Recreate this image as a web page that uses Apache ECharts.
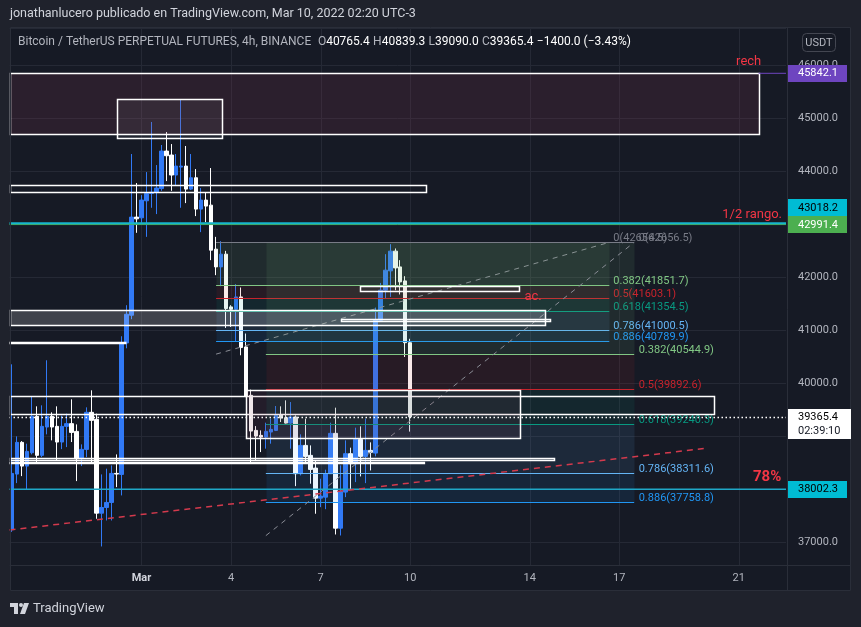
<!DOCTYPE html>
<html>
<head>
<meta charset="utf-8">
<script src="https://cdn.jsdelivr.net/npm/echarts@6.0.0/dist/echarts.min.js"></script>
<style>
html, body { margin: 0; padding: 0; background: #1f222c; }
#c { width: 861px; height: 627px; }
</style>
</head>
<body>
<div id="c"></div>
<script>
// 4h candles, BTCUSDT perp, Feb 24 16:00 -> Mar 10 00:00 (UTC-3)
const opens = [37240, 38289, 38887, 38440, 38692, 39377, 38642, 39176, 39377, 39189, 38893, 39189, 39240, 39094, 38579, 38755, 39453, 39321, 37553, 37660,
  37755, 38302, 38283, 40760, 41283, 43132, 43119, 43440, 43579, 43604, 43670, 44377, 44302, 43925, 44075, 44094, 43660, 43874, 43283, 43453,
  43358, 42528, 42194, 42434, 41440, 41396, 41628, 40685, 39774, 39113, 39019, 38987, 39082, 39113, 39410, 39353, 39250, 39364, 38296, 38830,
  38642, 38402, 37836, 37855, 38296, 39057, 37270, 37950, 38674, 38485, 38943, 38623, 38736, 38685, 41189, 41755, 42119, 42491, 42194, 41930, 40765.4]
const highs = [40358, 39000, 38911, 38862, 39742, 39566, 39585, 40434, 39453, 39566, 39390, 39428, 39698, 39226, 38849, 39547, 39868, 39428, 38283, 38391,
  38453, 38660, 40887, 41472, 44321, 43774, 43547, 43981, 44925, 44113, 44491, 44736, 44509, 44321, 45353, 44472, 44321, 44038, 43679, 43590,
  44057, 42760, 42679, 42496, 41472, 41868, 41806, 40938, 39881, 39194, 39113, 39258, 39334, 39572, 39566, 39679, 39647, 39396, 39038, 39334,
  38830, 38547, 38202, 38372, 39258, 39541, 38453, 38925, 38787, 39164, 39189, 39334, 38887, 41428, 41892, 42434, 42623, 42541, 42321, 42019, 40839.3]
const lows = [37200, 38119, 38251, 38000, 38660, 38515, 38609, 39038, 38925, 38547, 38760, 38798, 38893, 38157, 38440, 38609, 38496, 37447, 36925, 37415,
  37415, 38044, 37887, 40660, 41208, 42836, 43025, 42760, 43308, 43189, 43628, 43811, 43628, 43736, 43308, 43396, 43642, 43151, 42849, 43038,
  42321, 42038, 41830, 41043, 41062, 40798, 40528, 39740, 38515, 38547, 38704, 38768, 38862, 39100, 39270, 39240, 38768, 38062, 38264, 38485,
  38108, 37542, 37666, 37628, 38290, 37151, 37132, 37855, 38000, 38138, 38245, 38119, 38358, 38623, 41180, 41598, 41628, 41755, 41674, 40496, 39090.0]
const closes = [38302, 38887, 38440, 38717, 39377, 38642, 39189, 39377, 39176, 38893, 39189, 39240, 39075, 38579, 38755, 39453, 39302, 37553, 37660, 37755,
  38302, 38290, 40760, 41302, 43132, 43100, 43453, 43579, 43600, 43679, 44377, 44289, 43925, 44094, 44094, 43660, 43874, 43283, 43453, 43340,
  42509, 42194, 42434, 41409, 41396, 41628, 40674, 39760, 39100, 39006, 38987, 39094, 39132, 39396, 39345, 39250, 39364, 38296, 38830, 38623,
  38377, 37836, 37874, 38296, 39057, 37270, 37962, 38674, 38485, 38943, 38623, 38736, 38700, 41189, 41755, 42132, 42491, 42175, 41911, 40765.4, 39365.4]

const SLOTS = 156
const dayTickIdx = [26, 44, 62, 80, 104, 122, 146]
const dayTickText = ['Mar', '4', '7', '10', '14', '17', '21']

// drawings, x in candle slots, y in price
const boxes = [
  [-0.5, 150, 45842.1, 44698],
  [21, 42, 45353, 44617],
  [-0.5, 83, 43730, 43598],
  [-0.5, 107, 41391, 41108],
  [66, 108, 41221, 41179],
  [70, 102, 41830, 41730],
  [-0.5, 141, 39755, 39409],
  [47, 102, 39868, 38957],
  [-0.5, 108.7, 38594, 38547]
]
const hlines = [
  [150, 155.5, 45842.1],
  [-0.5, 155.5, 42991.4],
  [-0.5, 155.5, 43018.2],
  [-0.5, 155.5, 38002.3],
  [-0.5, 23, 40760],
  [-0.5, 83, 38500]
]
const redTrend = [-0.5, 37236, 139.3, 38774]
const fibRatios = ['0', '0.382', '0.5', '0.618', '0.786', '0.886']
const fibAPrices = [42656.5, 41851.7, 41603.1, 41354.5, 41000.5, 40789.9]
const fibBPrices = [42656.5, 40544.9, 39892.6, 39240.3, 38311.6, 37758.8]
const fibASpan = [41, 120]
const fibBSpan = [51, 125]
const fibATrend = [41, 40550, 120, 42656.5]
const fibBTrend = [51, 37129, 125, 42656.5]
const notes = [
  ['rech', 148, 46057],
  ['1/2 rango.', 148.7, 43170],
  ['ac.', 104.7, 41623],
  ['78%', 151.7, 38226]
]
const tagPrices = [45842.1, 43018.2, 42991.4, 38002.3]

const UP = '#3179f5', DOWN = '#ffffff'
const GRID = '#252935', BG = '#161a25', FRAME = '#2a2e39', TXT = '#b2b5be'
const FONT = 'Roboto, sans-serif'
const fibColors = ['#787b86', '#81c784', '#c8232c', '#089981', '#64b5f6', '#2196f3']
const boxFills = ['rgba(132,56,82,0.2)', 'rgba(255,255,255,0.05)', null, 'rgba(255,255,255,0.18)', null, 'rgba(255,255,255,0.03)', null, 'rgba(132,56,82,0.12)', null]
const hlineStyle = [
  { stroke: '#6e45c0', lineWidth: 1 },
  { stroke: '#4caf50', lineWidth: 1 },
  { stroke: '#16b5cc', lineWidth: 2 },
  { stroke: '#1fa8c8', lineWidth: 1.5 },
  { stroke: '#ffffff', lineWidth: 2.5 },
  { stroke: '#ffffff', lineWidth: 2.5 }
]

const chart = echarts.init(document.getElementById('c'))
const slotNames = Array.from({ length: SLOTS }, (_, i) => String(i))
const candles = opens.map((o, i) => [o, closes[i], lows[i], highs[i]])

// category axis rounds values, so add fractions by band width
function at(api, i, p) {
  const base = Math.max(0, Math.min(SLOTS - 1, Math.floor(i)))
  const pt = api.coord([base, p])
  return [pt[0] + (i - base) * api.size([1, 0])[0], pt[1]]
}

function rectFrom(api, x0, x1, p0, p1) {
  const a = at(api, x0, p0), b = at(api, x1, p1)
  return { x: Math.round(a[0]) + 0.5, y: Math.round(Math.min(a[1], b[1])) + 0.5, width: Math.round(b[0] - a[0]), height: Math.round(Math.abs(b[1] - a[1])) }
}

function fibGroup(api, prices, span, trend, labelDx) {
  const kids = []
  for (let k = 0; k < prices.length - 1; k++) {
    const r = rectFrom(api, span[0], span[1], prices[k], prices[k + 1])
    kids.push({ type: 'rect', shape: r, style: { fill: fibColors[k + 1], opacity: 0.1 } })
  }
  prices.forEach((p, k) => {
    const a = at(api, span[0], p), b = at(api, span[1], p)
    const y = Math.round(a[1]) + 0.5
    kids.push({ type: 'line', shape: { x1: a[0], y1: y, x2: b[0], y2: y }, style: { stroke: fibColors[k], lineWidth: 1 } })
    kids.push({ type: 'text', style: { text: fibRatios[k] + '(' + p.toFixed(1) + ')', x: b[0] + labelDx, y: y + 1, fill: fibColors[k], font: '11px ' + FONT, align: 'left', verticalAlign: 'bottom' } })
  })
  const t0 = at(api, trend[0], trend[1]), t1 = at(api, trend[2], trend[3])
  kids.push({ type: 'line', shape: { x1: t0[0], y1: t0[1], x2: t1[0], y2: t1[1] }, style: { stroke: '#8a8d96', lineWidth: 1, lineDash: [5, 5] } })
  return kids
}

const option = {
  animation: false,
  backgroundColor: 'transparent',
  grid: { left: 9.5, right: 75, top: 28, bottom: 62 },
  xAxis: {
    type: 'category',
    data: slotNames,
    boundaryGap: true,
    axisLine: { show: false },
    axisTick: { show: false },
    splitLine: { show: false },
    axisLabel: {
      interval: 0,
      margin: 8,
      color: TXT,
      fontSize: 11,
      fontFamily: FONT,
      formatter: (v, i) => {
        const k = dayTickIdx.indexOf(i)
        if (k < 0) return ''
        return k === 0 ? '{b|' + dayTickText[k] + '}' : dayTickText[k]
      },
      rich: { b: { color: '#d1d4dc', fontWeight: 'bold', fontSize: 11, fontFamily: FONT } }
    }
  },
  yAxis: {
    type: 'value',
    position: 'right',
    min: 36576,
    max: 46696,
    splitNumber: 10,
    axisLine: { show: false },
    axisTick: { show: false },
    splitLine: { show: true, lineStyle: { color: GRID, width: 1 } },
    axisLabel: {
      color: TXT, fontSize: 11, fontFamily: FONT, margin: 12,
      showMinLabel: false, showMaxLabel: false,
      formatter: v => v.toFixed(1)
    }
  },
  series: [
    {
      type: 'custom', z: 1, silent: true,
      data: dayTickIdx.map(i => [i, 40000]),
      renderItem: (params, api) => {
        const x = Math.round(api.coord([api.value(0), 40000])[0]) + 0.5
        const cs = params.coordSys
        return { type: 'line', shape: { x1: x, y1: cs.y, x2: x, y2: cs.y + cs.height }, style: { stroke: GRID, lineWidth: 1 } }
      }
    },
    {
      type: 'candlestick',
      z: 2,
      data: candles,
      barWidth: 4,
      itemStyle: { color: UP, color0: DOWN, borderColor: UP, borderColor0: DOWN, borderWidth: 1 }
    },
    {
      // fibonacci retracements
      type: 'custom', z: 3, silent: true,
      data: [[0, 40000], [1, 40000]],
      renderItem: (params, api) => {
        const i = params.dataIndex
        const kids = i === 0
          ? fibGroup(api, fibAPrices, fibASpan, fibATrend, 4)
          : fibGroup(api, fibBPrices, fibBSpan, fibBTrend, 4.5)
        return { type: 'group', children: kids }
      }
    },
    {
      // rectangles
      type: 'custom', z: 4, silent: true,
      data: boxes.map((b, i) => [i, b[2]]),
      renderItem: (params, api) => {
        const b = boxes[params.dataIndex]
        const fill = boxFills[params.dataIndex]
        return { type: 'rect', shape: rectFrom(api, b[0], b[1], b[2], b[3]), style: { fill: fill || 'none', stroke: '#ffffff', lineWidth: 1.5 } }
      }
    },
    {
      // horizontal lines
      type: 'custom', z: 5, silent: true,
      data: hlines.map((h, i) => [i, h[2]]),
      renderItem: (params, api) => {
        const h = hlines[params.dataIndex]
        const a = at(api, h[0], h[2]), b = at(api, h[1], h[2])
        return { type: 'line', shape: { x1: a[0], y1: a[1], x2: b[0], y2: b[1] }, style: hlineStyle[params.dataIndex] }
      }
    },
    {
      // red trend line, last price dotted line
      type: 'custom', z: 5, silent: true,
      data: [[0, redTrend[1]], [1, closes[closes.length - 1]]],
      renderItem: (params, api) => {
        if (params.dataIndex === 0) {
          const a = at(api, redTrend[0], redTrend[1]), b = at(api, redTrend[2], redTrend[3])
          return { type: 'line', shape: { x1: a[0], y1: a[1], x2: b[0], y2: b[1] }, style: { stroke: '#d43a4d', lineWidth: 1.5, lineDash: [6, 5] } }
        }
        const p = closes[closes.length - 1]
        const a = at(api, -0.5, p), b = at(api, 155.5, p)
        const y = Math.round(a[1]) + 0.5
        return { type: 'line', shape: { x1: a[0], y1: y, x2: b[0], y2: y }, style: { stroke: '#ffffff', lineWidth: 1.5, lineDash: [1.5, 2.5] } }
      }
    },
    {
      // text notes
      type: 'custom', z: 6, silent: true,
      data: notes.map((n, i) => [i, n[2]]),
      renderItem: (params, api) => {
        const n = notes[params.dataIndex]
        const pt = at(api, n[1], n[2])
        const big = n[0] === '78%'
        return { type: 'text', style: { text: n[0], x: pt[0], y: pt[1], fill: '#f23645', font: (big ? 'bold 15px ' : '13px ') + FONT, align: 'center', verticalAlign: 'middle' } }
      }
    }
  ]
}
chart.setOption(option)

// price tags on the axis, header, legend, frame
const axisX = 787
const yOf = p => chart.convertToPixel({ yAxisIndex: 0 }, p)
const tagStyle = { 45842.1: ['#6e45c0', '#ffffff'], 43018.2: ['#00bcd4', '#000000'], 42991.4: ['#4caf50', '#ffffff'], 38002.3: ['#00bcd4', '#000000'] }
const TAG_H = 17
const tags = tagPrices.map(p => ({ p, y: yOf(p) })).sort((a, b) => a.y - b.y)
for (let i = tags.length - 2; i >= 0; i--) {
  if (tags[i].y > tags[i + 1].y - TAG_H) tags[i].y = tags[i + 1].y - TAG_H
}
const last = closes[closes.length - 1]
const prev = closes[closes.length - 2]
const chg = last - prev
const pct = chg / prev * 100
const minus = v => (v < 0 ? '\u2212' : '+') + Math.abs(v).toFixed(v === pct ? 2 : 1)

const g = []
g.push({ type: 'rect', z: -10, shape: { x: 10, y: 27, width: 841, height: 564 }, style: { fill: BG } })
g.push({ type: 'rect', z: 100, shape: { x: 10.5, y: 27.5, width: 840, height: 563 }, style: { fill: 'none', stroke: FRAME, lineWidth: 1 } })
g.push({ type: 'line', z: 100, shape: { x1: axisX + 0.5, y1: 28, x2: axisX + 0.5, y2: 591 }, style: { stroke: FRAME, lineWidth: 1 } })
g.push({ type: 'line', z: 100, shape: { x1: 10, y1: 565.5, x2: 851, y2: 565.5 }, style: { stroke: FRAME, lineWidth: 1 } })
tags.forEach(t => {
  const s = tagStyle[t.p]
  g.push({ type: 'rect', z: 110, shape: { x: axisX + 1, y: Math.round(t.y - TAG_H / 2), width: 59, height: TAG_H }, style: { fill: s[0] } })
  g.push({ type: 'text', z: 111, style: { text: t.p.toFixed(1), x: axisX + 11, y: Math.round(t.y) + 0.5, fill: s[1], font: '11px ' + FONT, verticalAlign: 'middle' } })
})
const ly = yOf(last)
g.push({ type: 'rect', z: 110, shape: { x: axisX + 1, y: Math.round(ly - 8), width: 63, height: 30 }, style: { fill: '#ffffff' } })
g.push({ type: 'text', z: 111, style: { text: last.toFixed(1), x: axisX + 11, y: Math.round(ly) + 0.5, fill: '#000000', font: '11px ' + FONT, verticalAlign: 'middle' } })
g.push({ type: 'text', z: 111, style: { text: '02:39:10', x: axisX + 11, y: Math.round(ly) + 14.5, fill: '#131722', font: '11px ' + FONT, verticalAlign: 'middle' } })

g.push({ type: 'text', z: 120, style: { text: 'jonathanlucero publicado en TradingView.com, Mar 10, 2022 02:20 UTC-3', x: 10, y: 14, fill: '#d1d4dc', font: '12.5px ' + FONT, verticalAlign: 'middle' } })
const o = opens[opens.length - 1], h = highs[highs.length - 1], l = lows[lows.length - 1]
g.push({
  type: 'text', z: 120,
  style: {
    x: 18, y: 42, verticalAlign: 'middle',
    text: '{n|Bitcoin / TetherUS PERPETUAL FUTURES, 4h, BINANCE}  {k|O}{v|' + o.toFixed(1) + '} {k|H}{v|' + h.toFixed(1) + '} {k|L}{v|' + l.toFixed(1) + '} {k|C}{v|' + last.toFixed(1) + '} {v|' + minus(chg) + ' (' + minus(pct) + '%)}',
    rich: {
      n: { fill: '#b2b5be', font: '12px ' + FONT },
      k: { fill: '#b2b5be', font: '12px ' + FONT },
      v: { fill: '#ffffff', font: '12px ' + FONT }
    }
  }
})
g.push({ type: 'rect', z: 120, shape: { x: 802.5, y: 33.5, width: 33, height: 18, r: 4 }, style: { fill: 'none', stroke: '#434651', lineWidth: 1 } })
g.push({ type: 'text', z: 121, style: { text: 'USDT', x: 819, y: 43, fill: TXT, font: '11px ' + FONT, align: 'center', verticalAlign: 'middle' } })

// TradingView logo
g.push({ type: 'polygon', z: 120, shape: { points: [[10, 603], [18, 603], [18, 614], [14, 614], [14, 607], [10, 607]] }, style: { fill: '#d1d4dc' } })
g.push({ type: 'circle', z: 120, shape: { cx: 21, cy: 605, r: 2 }, style: { fill: '#d1d4dc' } })
g.push({ type: 'polygon', z: 120, shape: { points: [[24, 603], [29, 603], [25, 614], [20, 614]] }, style: { fill: '#d1d4dc' } })
g.push({ type: 'text', z: 120, style: { text: 'TradingView', x: 33, y: 609, fill: '#d1d4dc', font: '13px ' + FONT, verticalAlign: 'middle' } })

chart.setOption({ graphic: g })
</script>
</body>
</html>
